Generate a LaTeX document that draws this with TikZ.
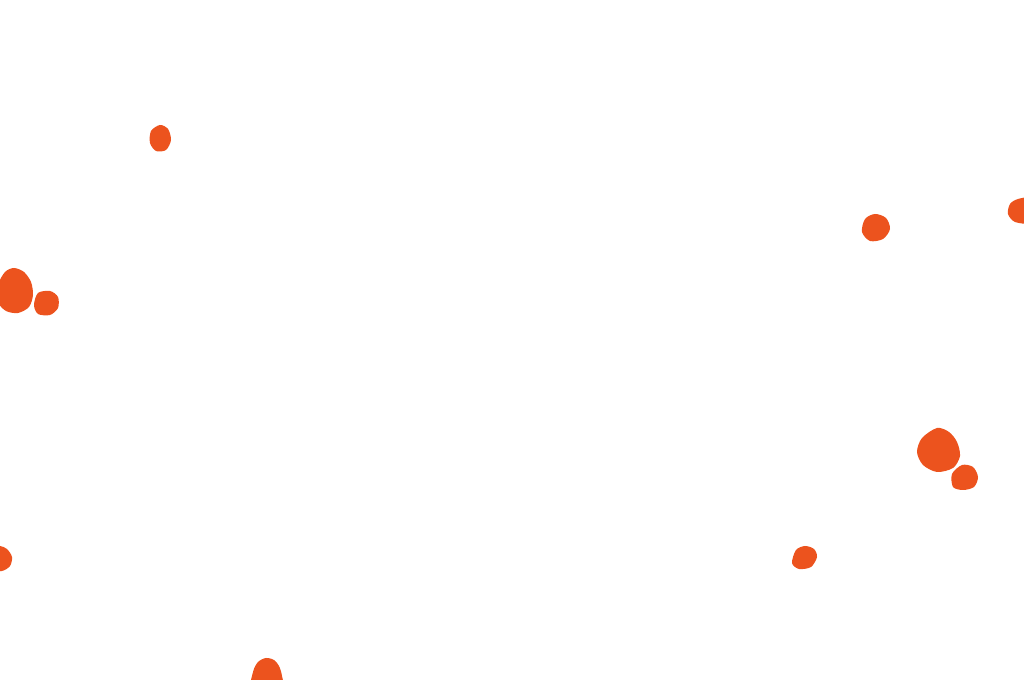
\documentclass[tikz,border=0pt]{standalone}
\usepackage{tikz}
\definecolor{blobred}{RGB}{236,83,30}

\begin{document}
\begin{tikzpicture}[x=0.01cm,y=-0.01cm]
\tikzset{blob/.style={fill=blobred,draw=none}}
\useasboundingbox (0,0) rectangle (1024,680);
\clip (0,0) rectangle (1024,680);

% upper left
\fill[blob] plot[smooth cycle] coordinates {(160,125) (168,129) (171,140) (166,150) (156,151) (150,143) (151,131)};

% left pair
\fill[blob] plot[smooth cycle] coordinates {(14,268) (24,272) (31,282) (33,295) (29,307) (18,313) (6,311) (-2,302) (-2,285) (5,272)};
\fill[blob] plot[smooth cycle] coordinates {(38,293) (50,291) (58,297) (58,308) (50,315) (38,314) (34,305)};

% upper right
\fill[blob] plot[smooth cycle] coordinates {(875,214) (886,218) (890,229) (883,239) (870,241) (862,232) (865,219)};
\fill[blob] plot[smooth cycle] coordinates {(1018,199) (1030,199) (1030,222) (1015,222) (1008,214) (1010,204)};

% right pair
\fill[blob] plot[smooth cycle] coordinates {(937,428) (949,432) (957,442) (960,456) (953,468) (937,472) (923,465) (917,452) (922,438)};
\fill[blob] plot[smooth cycle] coordinates {(962,465) (973,467) (978,477) (974,487) (963,490) (953,487) (952,474)};

% lower right
\fill[blob] plot[smooth cycle] coordinates {(805,546) (814,549) (817,557) (811,567) (799,569) (792,563) (796,550)};

% lower left
\fill[blob] plot[smooth cycle] coordinates {(0,546) (7,549) (12,557) (10,566) (2,571) (-8,569) (-8,547)};
\fill[blob] plot[smooth cycle] coordinates {(266,658) (274,660) (279,666) (282,676) (282,690) (252,690) (253,672) (258,662)};
\end{tikzpicture}
\end{document}
